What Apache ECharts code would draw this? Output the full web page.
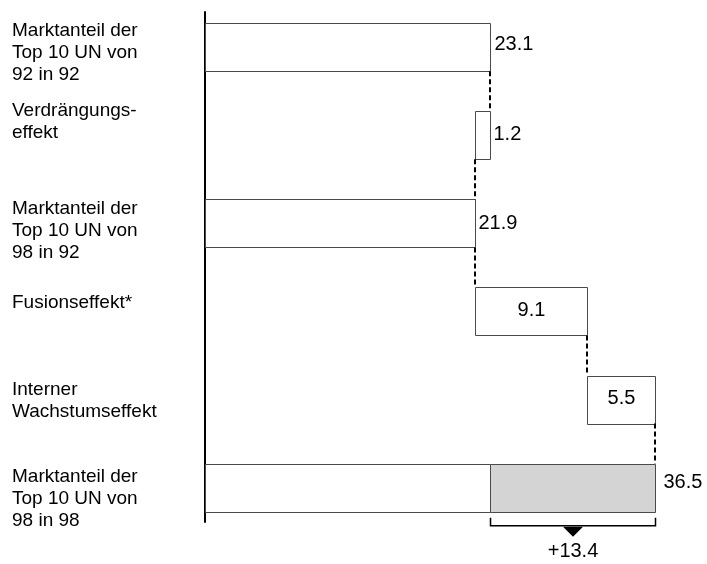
<!DOCTYPE html>
<html>
<head>
<meta charset="utf-8">
<script src="https://cdn.jsdelivr.net/npm/echarts@6/dist/echarts.min.js"></script>
<style>
  html, body { margin: 0; padding: 0; background: #fff; }
  #chart { width: 707px; height: 564px; }
</style>
</head>
<body>
<div id="chart"></div>
<script>
// ---- data ----
const rowLabels = [
  'Marktanteil der\nTop 10 UN von\n92 in 92',
  'Verdrängungs-\neffekt',
  'Marktanteil der\nTop 10 UN von\n98 in 92',
  'Fusionseffekt*',
  'Interner\nWachstumseffekt',
  'Marktanteil der\nTop 10 UN von\n98 in 98'
];
const stepValues = [23.1, -1.2, 21.9, 9.1, 5.5, 36.5];
const stepKinds = ['total', 'delta', 'total', 'delta', 'delta', 'total'];
const gainValue = 13.4;

// ---- layout / style ----
const FONT = "'Liberation Sans', Arial, Helvetica, sans-serif";
const GRID = { left: 205, right: 8.8, top: 12, bottom: 42 };
const Y_MIN = -0.4, Y_MAX = 5.39;
const X_MAX = 40;
const BAR_H = 48;
const labelNudgePx = [6, -14, 7, -9, 1, 11];
const valueInside = [false, false, false, true, true, false];
const valueOffset = [[4, -3], [3, -1], [3, 0], [0, -1], [0, -1], [8, -5]];

const pxPerRow = (564 - GRID.top - GRID.bottom) / (Y_MAX - Y_MIN);

// ---- waterfall construction ----
const bars = [];
const connectors = [];
let level = 0;
stepValues.forEach((v, i) => {
  const from = stepKinds[i] === 'total' ? 0 : level;
  const to = stepKinds[i] === 'total' ? v : level + v;
  const lo = Math.min(from, to), hi = Math.max(from, to);
  if (i > 0) connectors.push([level, i - 1, i]);
  if (i === stepValues.length - 1) {
    bars.push({ value: [0, v - gainValue, i], fill: '#ffffff', text: null });
    bars.push({ value: [v - gainValue, v, i], fill: '#d4d4d4',
      text: v.toFixed(1), inside: false, offset: valueOffset[i] });
  } else {
    bars.push({ value: [lo, hi, i], fill: '#ffffff',
      text: Math.abs(v).toFixed(1), inside: valueInside[i], offset: valueOffset[i] });
  }
  level = to;
});
const lastRow = stepValues.length - 1;
const bracket = [[stepValues[lastRow] - gainValue, stepValues[lastRow], lastRow, gainValue]];

function renderBar(params, api) {
  const item = bars[params.dataIndex];
  const a = api.coord([api.value(0), api.value(2)]);
  const b = api.coord([api.value(1), api.value(2)]);
  const x0 = Math.round(a[0]) + 0.5, x1 = Math.round(b[0]) + 0.5;
  const yc = a[1];
  const y0 = Math.round(yc - BAR_H / 2) + 0.5;
  const children = [{
    type: 'rect',
    shape: { x: x0, y: y0, width: x1 - x0, height: BAR_H },
    style: { fill: item.fill, stroke: '#4a4a4a', lineWidth: 1 }
  }];
  if (item.text) {
    const dx = item.offset[0], dy = item.offset[1];
    children.push({
      type: 'text',
      x: item.inside ? (x0 + x1) / 2 + dx : x1 + dx,
      y: yc + dy,
      style: {
        text: item.text, fill: '#000', fontSize: 20, fontFamily: FONT,
        align: item.inside ? 'center' : 'left', verticalAlign: 'middle'
      }
    });
  }
  return { type: 'group', children };
}

function renderConnector(params, api) {
  const top = api.coord([api.value(0), api.value(1)]);
  const bot = api.coord([api.value(0), api.value(2)]);
  const x = Math.round(top[0]);
  return {
    type: 'line',
    shape: { x1: x, y1: top[1] + BAR_H / 2, x2: x, y2: bot[1] - BAR_H / 2 },
    style: { stroke: '#000', lineWidth: 2, lineDash: [5, 3] }
  };
}

function renderBracket(params, api) {
  const a = api.coord([api.value(0), api.value(2)]);
  const b = api.coord([api.value(1), api.value(2)]);
  const x0 = Math.round(a[0]) + 0.5, x1 = Math.round(b[0]) + 0.5;
  const yb = a[1] + BAR_H / 2;
  const xm = (x0 + x1) / 2;
  return {
    type: 'group',
    children: [
      {
        type: 'polyline',
        shape: { points: [[x0, yb + 6], [x0, yb + 14], [x1, yb + 14], [x1, yb + 6]] },
        style: { stroke: '#000', lineWidth: 1.5, fill: null }
      },
      {
        type: 'polygon',
        shape: { points: [[xm - 10, yb + 15], [xm + 10, yb + 15], [xm, yb + 25]] },
        style: { fill: '#000' }
      },
      {
        type: 'text', x: xm, y: yb + 40,
        style: {
          text: '+' + api.value(3).toFixed(1), fill: '#000', fontSize: 20, fontFamily: FONT,
          align: 'center', verticalAlign: 'middle'
        }
      }
    ]
  };
}

const chart = echarts.init(document.getElementById('chart'), null, { renderer: 'canvas' });
chart.setOption({
  animation: false,
  backgroundColor: '#fff',
  grid: GRID,
  xAxis: { type: 'value', min: 0, max: X_MAX, show: false },
  yAxis: {
    type: 'value', min: Y_MIN, max: Y_MAX, inverse: true,
    axisLine: { show: true, onZero: false, lineStyle: { color: '#000', width: 2 } },
    axisTick: { show: false },
    splitLine: { show: false },
    axisLabel: {
      customValues: rowLabels.map((_, i) => i + labelNudgePx[i] / pxPerRow),
      formatter: (v) => rowLabels[Math.round(v)],
      align: 'left', margin: 193,
      fontSize: 19, lineHeight: 22, color: '#000', fontFamily: FONT
    }
  },
  series: [
    {
      type: 'custom', renderItem: renderBar,
      data: bars.map(b => b.value), encode: { x: [0, 1], y: 2 }, z: 2
    },
    {
      type: 'custom', renderItem: renderConnector,
      data: connectors, encode: { x: 0, y: [1, 2] }, z: 3
    },
    {
      type: 'custom', renderItem: renderBracket,
      data: bracket, encode: { x: [0, 1], y: 2 }, z: 3, clip: false
    }
  ]
});
</script>
</body>
</html>
